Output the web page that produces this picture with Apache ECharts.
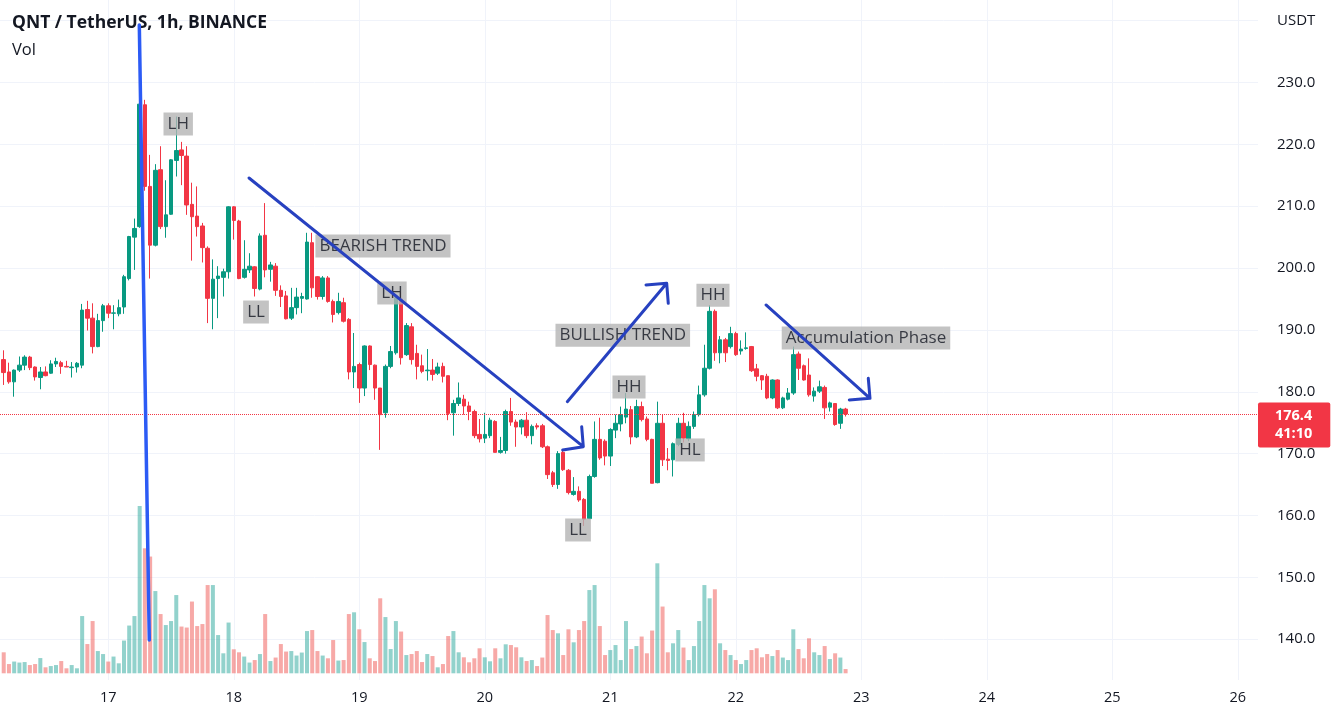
<!DOCTYPE html>
<html><head><meta charset="utf-8">
<script src="https://cdn.jsdelivr.net/npm/echarts@6/dist/echarts.min.js"></script>
<style>html,body{margin:0;padding:0;background:#fff}#c{width:1344px;height:716px}</style>
</head><body><div id="c"></div>
<script>
// ---- time: hours relative to day 17 00:00; first candle is 16 04:00 ----
const firstHour = -20;
const firstDayLabel = 17;
const lastDayHour = 216; // day 26

// ---- OHLC candles: [open, close, low, high] ----
const candles = [
[185.2,183.1,181.1,186.7],[183.2,181.6,181.3,184.7],[181.6,183.5,179.2,183.6],[183.5,184.3,183.2,185.7],
[184.3,185.6,183.5,185.9],[185.6,183.9,183.5,185.8],[184.0,182.4,181.8,184.1],[182.3,183.2,180.4,184.0],
[183.2,182.6,182.5,184.1],[183.0,184.5,182.9,185.1],[184.5,184.9,184.0,185.5],[184.7,184.1,182.9,185.0],
[184.1,184.0,184.0,185.0],[183.9,184.0,182.3,184.8],[184.0,184.6,183.1,184.8],[184.3,193.2,183.8,194.2],
[193.3,191.9,189.9,194.7],[191.9,187.3,186.2,194.3],[187.3,191.5,187.2,192.6],[191.5,193.9,189.7,194.2],
[193.9,192.7,191.9,194.3],[192.7,192.75,190.1,194.0],[192.6,193.6,192.2,194.9],[193.7,198.6,192.6,198.9],
[198.3,205.1,198.0,205.2],[205.0,206.4,199.7,208.0],[206.7,226.5,206.5,227.0],[226.4,213.2,212.5,227.2],
[213.2,203.7,198.3,218.3],[203.7,215.8,203.5,216.8],[215.9,206.7,206.3,219.7],[206.7,208.6,204.9,214.2],
[208.7,217.5,208.6,217.6],[217.4,219.0,214.8,224.5],[219.1,218.2,213.4,220.4],[218.1,210.2,208.6,219.7],
[210.3,208.3,201.2,213.8],[208.4,206.7,205.1,213.2],[206.8,203.3,200.9,207.3],[203.2,195.1,191.1,203.5],
[195.1,198.2,190.1,201.4],[198.3,198.7,191.9,200.3],[198.5,199.4,195.4,199.9],[199.4,209.9,198.3,210.0],
[209.9,207.7,204.6,210.0],[207.6,198.3,198.2,207.8],[198.5,199.8,198.3,204.5],[199.7,200.3,199.2,202.4],
[200.2,196.7,195.4,200.3],[196.6,205.2,196.4,205.6],[205.3,199.7,198.5,210.5],[199.8,200.5,197.8,201.0],
[200.3,196.4,195.5,200.8],[196.4,195.4,193.7,197.2],[195.5,191.8,191.7,196.3],[191.9,193.6,191.6,196.8],
[193.6,195.3,192.5,196.8],[195.1,195.4,192.7,196.0],[195.0,204.2,194.9,205.7],[204.1,196.8,195.2,205.7],
[198.6,195.4,194.9,198.7],[195.4,198.4,194.9,198.7],[198.4,194.6,194.4,198.7],[194.6,192.5,191.2,194.9],
[192.8,194.6,192.5,196.0],[194.4,191.4,191.2,195.2],[191.7,183.2,182.0,191.9],[183.2,184.1,180.6,189.5],
[184.4,180.6,178.2,184.7],[180.6,187.4,179.3,187.5],[187.4,184.4,183.5,187.5],[184.3,180.6,178.7,184.4],
[180.6,176.3,170.6,180.6],[176.6,184.1,175.8,184.4],[184.1,186.5,183.8,187.4],[186.3,195.2,186.0,195.4],
[195.0,185.5,184.4,196.2],[186.0,190.7,185.8,191.1],[190.5,185.2,184.4,191.1],[186.2,184.1,182.0,187.6],
[184.2,183.3,183.0,186.0],[183.4,183.5,181.8,186.9],[183.5,182.8,181.8,185.3],[183.0,184.0,182.7,184.7],
[184.1,182.5,181.5,184.7],[182.6,176.5,175.4,182.6],[176.6,178.1,172.9,178.7],[178.1,179.0,177.7,181.5],
[178.8,177.7,176.3,179.5],[177.7,176.8,175.4,178.4],[176.8,172.9,172.5,177.1],[173.1,172.4,171.8,175.6],
[172.5,173.1,171.7,176.6],[172.9,175.4,172.5,175.8],[175.2,170.2,170.2,175.4],[170.2,170.5,170.0,172.7],
[170.5,176.8,170.0,177.1],[176.8,175.1,174.5,179.0],[175.1,174.3,171.1,175.5],[174.3,175.4,173.1,175.6],
[175.4,172.9,172.5,176.7],[172.9,174.4,171.5,174.7],[174.5,174.3,173.9,174.9],[174.5,171.1,170.9,174.8],
[171.1,166.6,165.9,171.3],[166.9,165.0,164.6,167.2],[165.0,170.0,164.3,170.4],[170.2,167.4,167.2,170.5],
[167.3,163.7,163.4,167.5],[163.4,163.9,163.2,166.2],[163.9,162.5,162.2,164.7],[162.6,159.4,158.3,162.8],
[159.5,166.3,159.4,166.6],[166.3,172.3,166.1,175.2],[172.3,169.3,169.0,175.8],[172.0,169.6,168.1,172.3],
[169.6,173.9,168.0,174.1],[173.8,174.9,172.5,176.3],[174.8,176.3,173.6,177.6],[175.9,177.2,174.9,179.8],
[177.1,172.7,171.5,177.7],[172.7,177.6,172.5,178.7],[177.6,175.5,175.2,178.4],[175.6,172.3,172.0,176.0],
[172.3,165.2,165.2,172.4],[165.3,174.9,165.2,178.4],[174.9,169.0,168.0,176.3],[169.1,168.9,167.3,170.9],
[169.0,171.6,166.3,171.8],[171.5,174.9,171.2,175.8],[174.9,172.5,171.8,176.6],[172.4,174.4,172.0,175.2],
[174.4,176.3,174.0,176.8],[176.3,179.5,176.0,181.0],[179.5,183.8,179.2,187.6],[183.8,193.0,183.6,194.0],
[193.0,186.3,185.0,193.3],[186.3,188.4,184.6,189.0],[188.4,186.3,184.8,188.7],[187.3,189.4,187.0,190.5],
[189.4,186.0,185.8,189.7],[186.6,186.9,186.0,188.3],[187.0,187.1,186.8,189.6],[187.3,183.4,183.2,187.4],
[183.7,182.5,181.7,184.5],[182.6,181.9,180.3,182.7],[182.5,179.0,178.8,182.9],[179.0,181.9,178.8,182.0],
[181.9,177.4,177.2,182.0],[177.4,179.0,177.2,179.2],[178.8,179.8,178.6,180.6],[179.8,186.0,179.5,187.3],
[186.1,183.8,181.9,186.5],[184.2,181.9,181.8,184.4],[182.7,179.5,179.2,185.4],[179.3,180.1,178.4,180.7],
[180.1,180.8,179.8,181.8],[180.7,177.4,175.6,181.0],[177.5,178.2,176.8,178.4],[178.1,174.7,174.5,178.1],
[174.9,177.2,174.0,177.4],[177.2,176.4,176.0,177.4]
];

// ---- volume (relative units) ----
const volumes = [
8.4,3.7,4.7,4.3,4.5,3.3,3.7,6.1,2.4,2.9,3.3,4.9,2.0,3.3,2.0,22.9,11.7,20.9,8.9,7.7,
4.7,6.7,4.0,13.1,19.1,22.9,66.9,50.0,46.7,32.9,23.7,19.3,20.9,31.3,18.7,18.3,28.7,18.9,19.7,35.3,
35.3,15.3,8.0,20.3,9.6,8.4,6.7,4.3,5.3,7.7,23.7,4.9,6.3,11.7,8.7,8.9,7.1,8.3,16.9,17.3,
8.9,7.1,6.0,13.3,5.1,5.3,23.7,24.4,17.6,12.5,6.0,4.9,30.0,22.5,9.7,20.9,16.7,7.3,7.7,8.9,
4.5,7.7,6.9,2.4,3.7,14.9,16.9,8.4,6.4,4.4,6.0,10.0,6.4,4.8,10.0,6.0,11.6,11.3,10.4,6.4,
4.9,5.3,2.9,6.3,23.3,17.3,16.0,7.3,17.6,12.4,17.3,20.9,33.3,35.3,18.9,7.3,9.3,11.3,5.3,20.9,
9.7,10.9,14.7,8.0,17.1,44.0,26.7,8.4,12.0,17.3,10.3,5.3,10.9,20.9,35.3,30.0,33.6,12.0,9.3,7.3,
5.3,3.7,5.3,9.3,10.0,6.4,7.7,6.9,9.3,6.3,5.3,17.6,9.7,6.0,14.0,8.4,7.3,10.9,5.7,8.0,6.3,1.7
];

// ---- price scale ticks ----
const priceMin = 140, priceMax = 240, priceStep = 10;
const priceUnit = 'USDT';
const lastPrice = 176.4;
const countdown = '41:10';

// ---- annotations (hour, price) ----
const boxLabels = [
  ['LH', 13.37, 223.29], ['LL', 28.25, 192.89], ['BEARISH TREND', 52.53, 203.56],
  ['LH', 54.25, 195.97], ['BULLISH TREND', 98.39, 189.13], ['HH', 99.58, 180.77],
  ['HH', 115.64, 195.6], ['HL', 111.25, 170.59], ['LL', 89.83, 157.65],
  ['Accumulation Phase', 144.9, 188.69]
];
const spikeLine = [[5.93, 239.3], [7.84, 139.86]];
const bearArrow = [[26.91,214.56],[90.84,171.12],[86.90,170.58],[90.84,171.12],[90.53,174.35]];
const bullArrow = [[87.78,178.39],[106.79,197.53],[102.83,197.26],[106.79,197.53],[107.09,194.30]];
const accumArrow = [[125.78,194.03],[145.67,178.94],[141.71,178.67],[145.67,178.94],[145.34,182.17]];

// ---- styling / layout ----
const UP = '#089981', DOWN = '#f23645';
const UP_VOL = 'rgba(38,166,154,0.5)', DOWN_VOL = 'rgba(239,83,80,0.5)';
const GRIDC = '#f0f3fa';
const TXT = '#131722';
const FONT = 'Open Sans';
const pxPerHour = 5.229, day0X = 108.3, plotRight = 1258;
const xMin = -day0X / pxPerHour, xMax = (plotRight - day0X) / pxPerHour;
const frameRight = 1344 - (day0X + lastDayHour * pxPerHour);

const candleData = candles.map((c, i) => [firstHour + i, c[0], c[1], c[2], c[3]]);
const volData = volumes.map((v, i) => ({
  value: [firstHour + i, v],
  itemStyle: { color: candles[i][1] >= candles[i][0] ? UP_VOL : DOWN_VOL }
}));

const arrowSeries = (pts, color, width) => ({
  type: 'line', xAxisIndex: 1, yAxisIndex: 1, data: pts, showSymbol: false, symbol: 'none',
  clip: false, z: 6, silent: true, animation: false,
  lineStyle: { color: color, width: width, cap: 'round', join: 'round' }
});

const chart = echarts.init(document.getElementById('c'), null, { renderer: 'canvas' });
chart.setOption({
  animation: false,
  backgroundColor: '#ffffff',
  title: [
    { text: 'QNT / TetherUS, 1h, BINANCE', left: 12, top: 14, padding: 0,
      textStyle: { fontFamily: FONT, fontSize: 17.5, fontWeight: 'bold', color: TXT } },
    { text: 'Vol', left: 12, top: 42, padding: 0,
      textStyle: { fontFamily: FONT, fontSize: 16.5, fontWeight: 'normal', color: TXT } }
  ],
  grid: [
    { left: day0X, right: frameRight, top: 0, bottom: 36 },
    { left: 0, right: 1344 - plotRight, top: 20.65, bottom: 76.85 },
    { left: 0, right: 1344 - plotRight, top: 423.3, bottom: 42.7 }
  ],
  xAxis: [
    { gridIndex: 0, type: 'value', min: 0, max: lastDayHour, interval: 24,
      axisLine: { show: false }, axisTick: { show: false },
      splitLine: { show: true, showMinLine: true, showMaxLine: true, lineStyle: { color: GRIDC, width: 1 } },
      axisLabel: { margin: 10, color: TXT, fontFamily: FONT, fontSize: 14.5, showMinLabel: true, showMaxLabel: true,
        formatter: v => String(firstDayLabel + v / 24) } },
    { gridIndex: 1, type: 'value', min: xMin, max: xMax, show: false },
    { gridIndex: 2, type: 'value', min: xMin, max: xMax, show: false }
  ],
  yAxis: [
    { gridIndex: 0, type: 'value', min: 0, max: 1, show: false },
    { gridIndex: 1, type: 'value', position: 'right', min: priceMin, max: priceMax, interval: priceStep,
      axisLine: { show: false }, axisTick: { show: false },
      splitLine: { show: true, lineStyle: { color: GRIDC, width: 1 } },
      axisLabel: { margin: 19, color: TXT, fontFamily: FONT, fontSize: 15, showMaxLabel: true,
        formatter: v => v === priceMax ? priceUnit : v.toFixed(1) } },
    { gridIndex: 2, type: 'value', min: 0, max: 100, show: false }
  ],
  series: [
    { type: 'bar', xAxisIndex: 2, yAxisIndex: 2, data: volData, barWidth: 4, z: 1, silent: true },
    { type: 'candlestick', xAxisIndex: 1, yAxisIndex: 1, data: candleData, barWidth: 4, z: 3,
      itemStyle: { color: UP, color0: DOWN, borderColor: UP, borderColor0: DOWN, borderWidth: 1 },
      markLine: {
        silent: true, symbol: ['none', 'none'], animation: false,
        lineStyle: { color: DOWN, type: 'dotted', width: 1 },
        data: [{ yAxis: lastPrice }],
        label: { show: true, position: 'end', distance: 0, offset: [0, 11],
          formatter: lastPrice.toFixed(1) + '\n' + countdown,
          backgroundColor: DOWN, color: '#ffffff', fontFamily: FONT, fontSize: 14.5, fontWeight: 'bold',
          lineHeight: 18, padding: [5, 18, 4, 17], borderRadius: 2 }
      } },
    arrowSeries(spikeLine, '#2c5bf5', 3.5),
    arrowSeries(bearArrow, '#2741c0', 3),
    arrowSeries(bullArrow, '#2741c0', 3),
    arrowSeries(accumArrow, '#2741c0', 3),
    { type: 'scatter', xAxisIndex: 1, yAxisIndex: 1, symbolSize: 0, z: 5, silent: true,
      data: boxLabels.map(b => ({ name: b[0], value: [b[1], b[2]] })),
      label: { show: true, position: 'inside', formatter: '{b}', color: TXT, fontFamily: FONT,
        fontSize: 17, backgroundColor: '#b4b4b4', padding: [2, 4, 2, 4], lineHeight: 19 } }
  ]
});
</script></body></html>
